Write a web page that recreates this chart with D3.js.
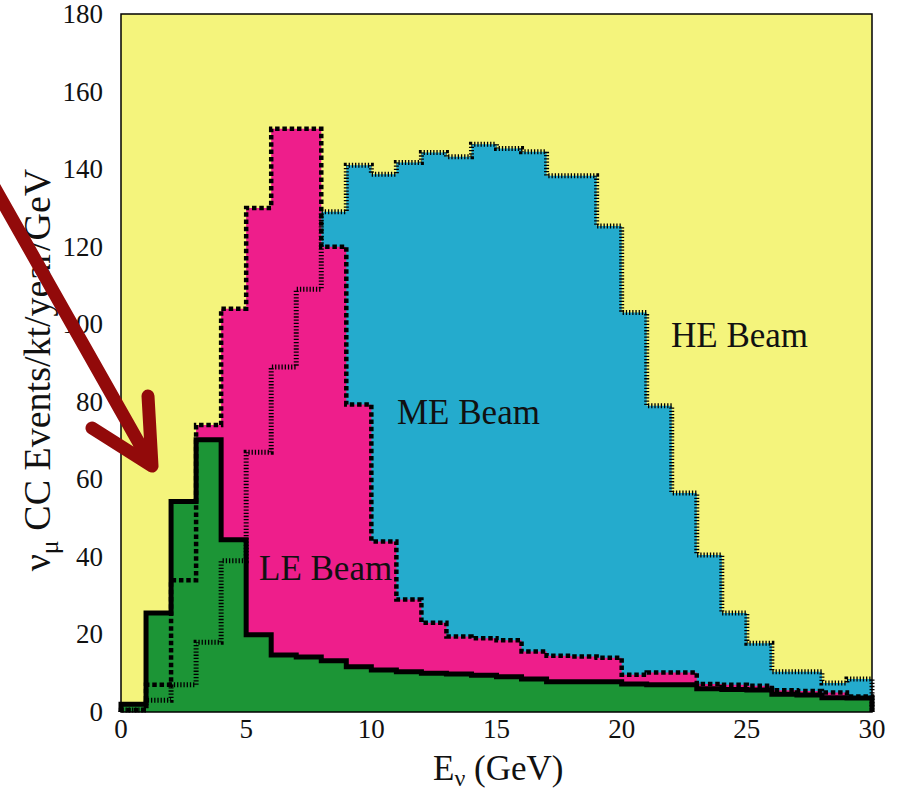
<!DOCTYPE html>
<meta charset="utf-8">
<style>
  body { margin: 0; background: #fff; }
  text { font-family: "Liberation Serif", "Times New Roman", serif; fill: #111; }
</style>
<svg width="899" height="790"></svg>
<script src="https://cdn.jsdelivr.net/npm/d3@7"></script>
<script>
// bin edges in GeV (1 GeV bins)
var binEdges = [0,1,2,3,4,5,6,7,8,9,10,11,12,13,14,15,16,17,18,19,20,21,22,23,24,25,26,27,28,29,30];

// events / kt / year / GeV per bin
var heBeam = [0.5, 3, 7, 18, 39, 67, 89, 109, 129, 141, 138.7, 141.7, 144.3, 143.2, 146.4,
              145.3, 144.5, 138.3, 138.3, 125.3, 103, 79, 56.5, 40.5, 25.5, 17.7, 10.4, 10.4, 7.5, 8.5];
var meBeam = [0.5, 7, 34, 74, 104, 130, 150.4, 150.4, 120, 79.3, 44, 29, 23, 19.5, 19,
              18.5, 15.6, 14.5, 14.3, 14, 9.6, 10.2, 10.2, 7.2, 7, 6.8, 5.6, 5.4, 5, 4];
var leBeam = [2, 25.5, 54.3, 70.2, 44.4, 19.9, 14.7, 14.2, 13.2, 11.7, 10.8, 10.4, 10, 9.8, 9.5,
              9.1, 8.5, 7.8, 7.8, 7.8, 7.2, 7, 7, 6, 5.8, 5.7, 4.6, 4.4, 3.7, 3.6];

var xTicks = [0, 5, 10, 15, 20, 25, 30];
var yTicks = [0, 20, 40, 60, 80, 100, 120, 140, 160, 180];

var svg = d3.select("svg");
// note: "top" is a reserved window prop, so use plot* names
var plotL = 121, plotR = 872, plotT = 14, plotB = 712;

var x = d3.scaleLinear().domain([0, 30]).range([plotL, plotR]);
var y = d3.scaleLinear().domain([0, 180]).range([plotB, plotT]);

// plot background
svg.append("rect")
    .attr("x", plotL).attr("y", plotT)
    .attr("width", plotR - plotL).attr("height", plotB - plotT)
    .attr("fill", "#f4f47c");

function stepPoints(vals) {
  var pts = [[binEdges[0], 0]];
  vals.forEach(function(v, i) {
    pts.push([binEdges[i], v], [binEdges[i + 1], v]);
  });
  pts.push([binEdges[binEdges.length - 1], 0]);
  return pts;
}

var line = d3.line()
    .x(function(d) { return x(d[0]); })
    .y(function(d) { return y(d[1]); });

var series = [
  { vals: heBeam, fill: "#24abcd", width: 5, dash: "1.3,1.9" },
  { vals: meBeam, fill: "#ee1e8b", width: 4.5, dash: "4.5,2.8" },
  { vals: leBeam, fill: "#1c9536", width: 5, dash: null }
];

// fills first
series.forEach(function(s) {
  svg.append("path")
      .attr("d", line(stepPoints(s.vals)) + "Z")
      .attr("fill", s.fill);
});

// then outlines on top
series.forEach(function(s) {
  svg.append("path")
      .attr("d", line(stepPoints(s.vals)))
      .attr("fill", "none")
      .attr("stroke", "#000")
      .attr("stroke-width", s.width)
      .attr("stroke-dasharray", s.dash)
      .attr("stroke-linejoin", "miter");
});

// frame
svg.append("rect")
    .attr("x", plotL).attr("y", plotT)
    .attr("width", plotR - plotL).attr("height", plotB - plotT)
    .attr("fill", "none")
    .attr("stroke", "#000")
    .attr("stroke-width", 1.5);

// tick labels
svg.selectAll(".xt").data(xTicks).enter().append("text")
    .attr("x", function(d) { return x(d); })
    .attr("y", 738)
    .attr("text-anchor", "middle")
    .attr("font-size", 27)
    .text(function(d) { return d; });

svg.selectAll(".yt").data(yTicks).enter().append("text")
    .attr("x", 103)
    .attr("y", function(d) { return y(d) + 9; })
    .attr("text-anchor", "end")
    .attr("font-size", 27)
    .text(function(d) { return d; });

// axis titles
var xl = svg.append("text")
    .attr("x", 433).attr("y", 780)
    .attr("font-size", 35);
xl.append("tspan").text("E");
xl.append("tspan").attr("dy", 6).attr("font-size", 24).text("ν");
xl.append("tspan").attr("dy", -6).text(" (GeV)");

var yl = svg.append("text")
    .attr("transform", "translate(50,370) rotate(-90)")
    .attr("text-anchor", "middle")
    .attr("font-size", 38);
yl.append("tspan").text("ν");
yl.append("tspan").attr("dy", 8).attr("font-size", 26).text("μ");
yl.append("tspan").attr("dy", -8).text(" CC Events/kt/year/GeV");

// beam labels
svg.append("text").attr("x", 671).attr("y", 347).attr("font-size", 35).text("HE Beam");
svg.append("text").attr("x", 397).attr("y", 424).attr("font-size", 35).text("ME Beam");
svg.append("text").attr("x", 259).attr("y", 580).attr("font-size", 35).text("LE Beam");

// red arrow
svg.append("path")
    .attr("d", "M-12,176L152,466M148,396L152,466L92,428")
    .attr("fill", "none")
    .attr("stroke", "#920a0a")
    .attr("stroke-width", 13)
    .attr("stroke-linecap", "round")
    .attr("stroke-linejoin", "round");
</script>
